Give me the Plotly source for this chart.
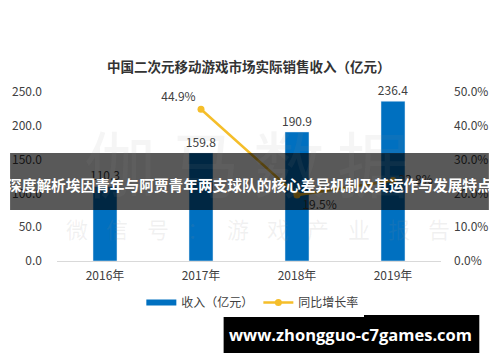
import plotly.graph_objects as go

years = ["2016年", "2017年", "2018年", "2019年"]
revenue = [110.3, 159.8, 190.9, 236.4]
growth = [None, 0.449, 0.195, 0.238]
growth_labels = ["", "44.9%", "19.5%", "23.8%"]
left_ticks = [0, 50, 100, 150, 200, 250]
right_ticks = [0, 0.1, 0.2, 0.3, 0.4, 0.5]

title = "中国二次元移动游戏市场实际销售收入（亿元）"
banner = "深度解析埃因青年与阿贾青年两支球队的核心差异机制及其运作与发展特点"
site = "www.zhongguo-c7games.com"
wm_big = ["伽", "马", "数", "据"]
wm_small = list("微信号：游戏产业报告")

FONT = "Noto Sans CJK SC"
BLUE = "#0070C0"
GOLD = "#F5BE2A"
fig = go.Figure()
fig.add_trace(go.Bar(
    x=years, y=revenue, name="收入（亿元）", marker_color=BLUE, showlegend=False,
    width=0.25, text=[f"{v:.1f}" for v in revenue], textposition="outside",
    constraintext="none",
    textfont=dict(size=12, color="#404040"), cliponaxis=False,
))
# legend-only entry with a wide bar-like swatch
fig.add_trace(go.Scatter(
    x=[None], y=[None], name="收入（亿元）", mode="lines",
    line=dict(color=BLUE, width=6),
))
fig.add_trace(go.Scatter(
    x=years, y=growth, name="同比增长率", yaxis="y2", mode="lines+markers+text",
    line=dict(color=GOLD, width=2.5), marker=dict(size=7, color=GOLD),
    text=growth_labels, textposition=["top left", "top left", "bottom right", "middle right"],
    textfont=dict(size=12, color="#404040"), cliponaxis=False,
))

fig.update_layout(
    width=500, height=362, margin=dict(l=49, r=50, t=92, b=101),
    paper_bgcolor="white", plot_bgcolor="white",
    font=dict(family=FONT, size=12, color="#404040"),
    showlegend=True,
    legend=dict(orientation="h", x=0.51, xanchor="center", y=-0.245, yanchor="middle",
                font=dict(size=12, color="#404040"), itemwidth=30, tracegroupgap=0),
    xaxis=dict(showline=True, linecolor="#d9d9d9", linewidth=1, ticks="",
               tickfont=dict(size=12), ticklabelstandoff=4),
    yaxis=dict(range=[0, 250], tickvals=left_ticks, tickformat=".1f", showgrid=False,
               zeroline=False, ticklabelstandoff=14, tickfont=dict(size=12)),
    yaxis2=dict(range=[0, 0.5], tickvals=right_ticks, tickformat=".1%", overlaying="y",
                side="right", showgrid=False, zeroline=False, ticklabelstandoff=12,
                tickfont=dict(size=12)),
    bargap=0.75,
)

ann = []
ann.append(dict(text=f"<b>{title}</b>", x=250, y=66, showarrow=False,
                font=dict(size=13.5, color="#333333", family=FONT)))
# watermark
for i, ch in enumerate(wm_big):
    ann.append(dict(text=ch, x=115 + i * 88, y=160, showarrow=False,
                    font=dict(size=72, color="rgba(140,140,140,0.09)", family=FONT)))
for i, ch in enumerate(wm_small):
    ann.append(dict(text=ch, x=70 + i * 42, y=228, showarrow=False,
                    font=dict(size=22, color="rgba(140,140,140,0.12)", family=FONT)))
# banner text
ann.append(dict(text=f"<b>{banner}</b>", x=250, y=184, showarrow=False,
                font=dict(size=14.7, color="white", family=FONT)))
ann.append(dict(text=f"<b>{site}</b>", x=356, y=334, showarrow=False,
                font=dict(size=16.5, color="white", family="Open Sans")))

# convert pixel coordinates to paper
pw, ph = 500 - 49 - 50, 362 - 92 - 101
for a in ann:
    a["xref"] = "paper"; a["yref"] = "paper"
    a["x"] = (a["x"] - 49) / pw
    a["y"] = (362 - 101 - a["y"]) / ph
    a["xanchor"] = "center"; a["yanchor"] = "middle"
fig.update_layout(annotations=ann)

def px_rect(x0, y0, x1, y1, color):
    return dict(type="rect", xref="paper", yref="paper", layer="above", line=dict(width=0),
                fillcolor=color,
                x0=(x0 - 49) / pw, x1=(x1 - 49) / pw,
                y0=(261 - y1) / ph, y1=(261 - y0) / ph)

fig.update_layout(shapes=[
    px_rect(0, 153, 500, 210, "rgba(0,0,0,0.65)"),
    px_rect(223, 315, 490, 353, "black"),
])

fig.write_html("out.html", config={"displayModeBar": False},
               post_script="document.body.style.margin='0';")
